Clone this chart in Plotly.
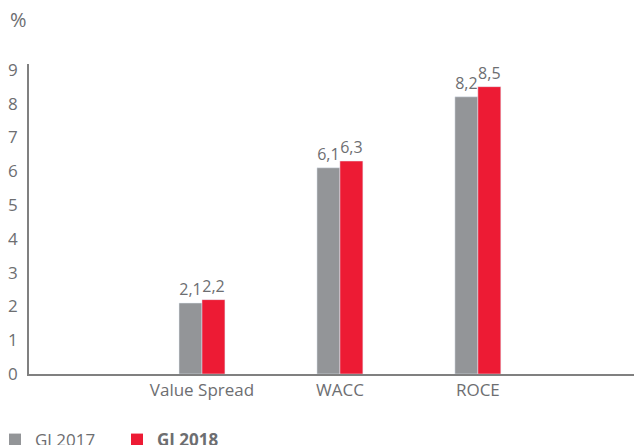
import plotly.graph_objects as go

categories = ["Value Spread", "WACC", "ROCE"]
gj2017 = [2.1, 6.1, 8.2]
gj2018 = [2.2, 6.3, 8.5]
series_names = ["GJ 2017", "<b>GJ 2018</b>"]

grey = "#939598"
red = "#ED1B34"
text_col = "#6D6E71"
font = "Open Sans"
fsize = 17

fig = go.Figure()
for vals, col, name in [(gj2017, grey, series_names[0]), (gj2018, red, series_names[1])]:
    fig.add_trace(go.Bar(
        x=categories, y=vals, name=name, marker_color=col, showlegend=False,
        texttemplate="%{y:.1f}", textposition="outside",
        textfont=dict(color=text_col, size=16, family=font), cliponaxis=False,
    ))
    # legend-only entry with a larger square swatch
    fig.add_trace(go.Scatter(
        x=[None], y=[None], mode="markers", name=name,
        marker=dict(symbol="square", size=12, color=col),
    ))

# page body adds an 8px offset: size the figure so it fits the window exactly
fig.update_layout(
    width=634, height=437,
    margin=dict(l=21, r=0, t=56, b=71, autoexpand=False),
    paper_bgcolor="white", plot_bgcolor="white",
    separators=",.",
    barmode="group", bargap=0.667, bargroupgap=0,
    font=dict(family=font, size=fsize, color=text_col),
    showlegend=True,
    legend=dict(orientation="h", x=-0.0555, xanchor="left", y=-0.213, yanchor="middle",
                font=dict(size=fsize, color=text_col), itemwidth=30,
                entrywidth=77, traceorder="normal"),
    xaxis=dict(range=[-1.254, 3.19], showline=True, linecolor="#808080", linewidth=1.5,
               ticks="", showgrid=False, zeroline=False, automargin=False),
    yaxis=dict(range=[0, 9.17], showline=True, linecolor="#808080", linewidth=1.5,
               tickvals=list(range(10)), ticks="", showgrid=False, zeroline=False,
               ticklabelstandoff=6, automargin=False),
    annotations=[dict(text="%", x=-0.0343, xanchor="left", y=1.142, yanchor="middle",
                      xref="paper", yref="paper", showarrow=False,
                      font=dict(size=20, color=text_col, family=font))],
)

fig.write_html("out.html")
